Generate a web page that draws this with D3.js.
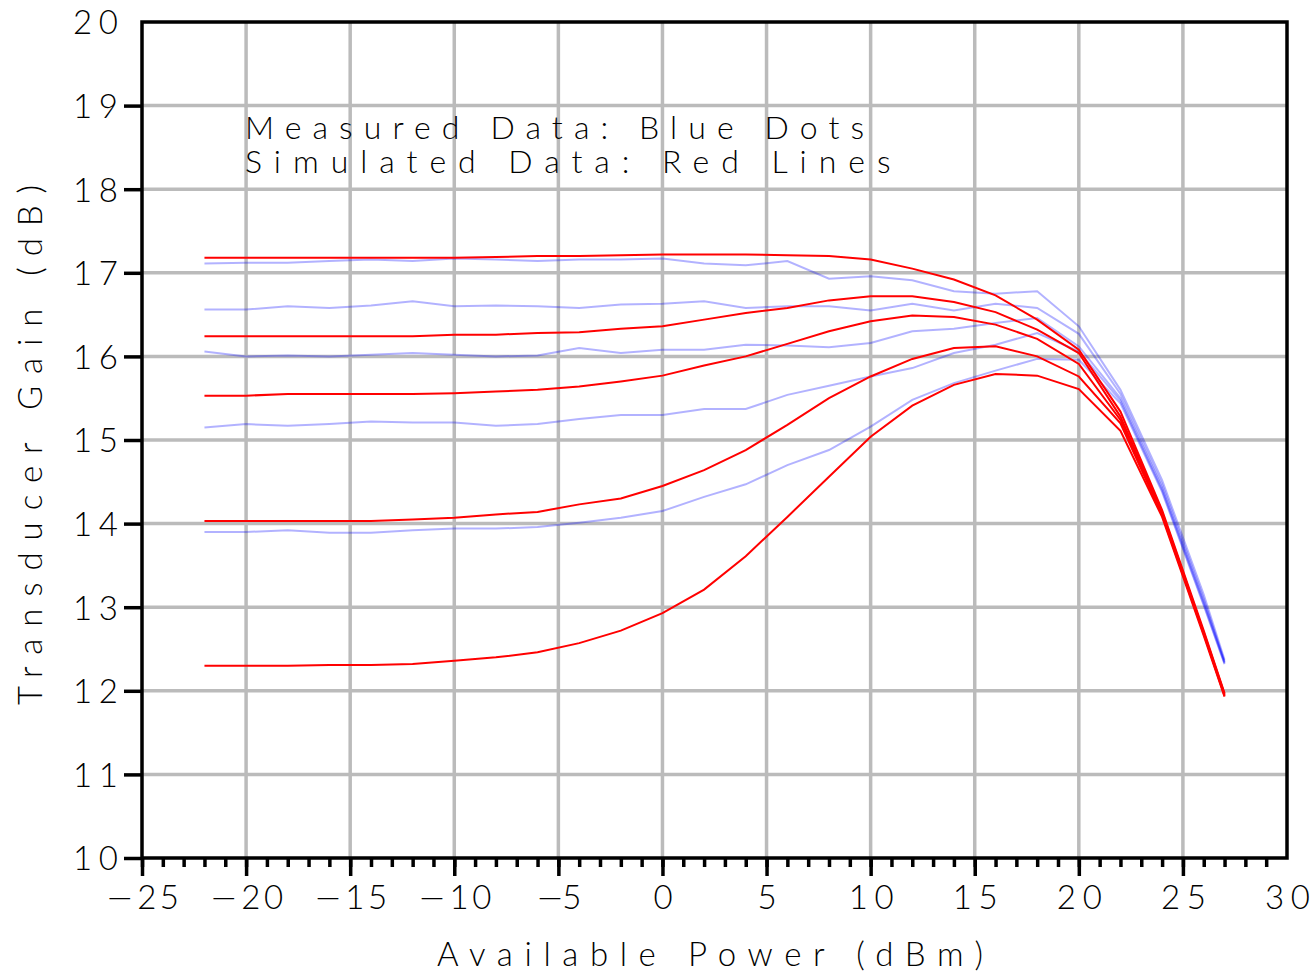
<!DOCTYPE html>
<html>
<head>
<meta charset="utf-8">
<script src="https://cdn.jsdelivr.net/npm/d3@7"></script>
<style>
    body { margin: 0; background: #fff; }
    text { font-family: Lato, "DejaVu Sans", sans-serif; font-weight: 300; fill: #000; }
</style>
</head>
<body>
<svg id="chart" width="1316" height="975"></svg>
<script>
// available power sweep (dBm)
const powerIn = [-22, -20, -18, -16, -14, -12, -10, -8, -6, -4, -2, 0, 2, 4, 6, 8, 10, 12, 14, 16, 18, 20, 22, 24, 26, 27];

// simulated gain, red lines (dB)
const simGain = [
    [17.18, 17.18, 17.18, 17.18, 17.18, 17.18, 17.18, 17.19, 17.20, 17.20, 17.21, 17.22, 17.22, 17.22, 17.21, 17.20, 17.16, 17.05, 16.92, 16.73, 16.44, 16.08, 15.34, 14.16, 12.72, 11.97],
    [16.24, 16.24, 16.24, 16.24, 16.24, 16.24, 16.26, 16.26, 16.28, 16.29, 16.33, 16.36, 16.44, 16.52, 16.58, 16.67, 16.72, 16.72, 16.65, 16.53, 16.32, 16.04, 15.28, 14.14, 12.70, 11.96],
    [15.53, 15.53, 15.55, 15.55, 15.55, 15.55, 15.56, 15.58, 15.60, 15.64, 15.70, 15.77, 15.89, 16.00, 16.15, 16.30, 16.42, 16.49, 16.47, 16.38, 16.21, 15.91, 15.24, 14.12, 12.69, 11.95],
    [14.03, 14.03, 14.03, 14.03, 14.03, 14.05, 14.07, 14.11, 14.14, 14.23, 14.30, 14.45, 14.64, 14.88, 15.18, 15.50, 15.76, 15.97, 16.10, 16.12, 16.00, 15.76, 15.20, 14.10, 12.68, 11.94],
    [12.30, 12.30, 12.30, 12.31, 12.31, 12.32, 12.36, 12.40, 12.46, 12.57, 12.72, 12.93, 13.21, 13.61, 14.08, 14.56, 15.04, 15.41, 15.66, 15.79, 15.77, 15.61, 15.11, 14.08, 12.66, 11.93]
];

// measured gain, blue (dB)
const measGain = [
    [17.11, 17.12, 17.12, 17.14, 17.16, 17.14, 17.17, 17.16, 17.14, 17.16, 17.16, 17.17, 17.11, 17.09, 17.14, 16.93, 16.96, 16.91, 16.78, 16.75, 16.78, 16.36, 15.60, 14.52, 13.15, 12.37],
    [16.56, 16.56, 16.60, 16.58, 16.61, 16.66, 16.60, 16.61, 16.60, 16.58, 16.62, 16.63, 16.66, 16.58, 16.60, 16.60, 16.55, 16.63, 16.55, 16.63, 16.58, 16.27, 15.55, 14.47, 13.10, 12.35],
    [16.06, 16.00, 16.01, 16.00, 16.02, 16.04, 16.02, 16.00, 16.01, 16.10, 16.04, 16.08, 16.08, 16.14, 16.13, 16.11, 16.16, 16.30, 16.33, 16.40, 16.46, 16.12, 15.50, 14.43, 13.07, 12.34],
    [15.15, 15.19, 15.17, 15.19, 15.22, 15.21, 15.21, 15.17, 15.19, 15.25, 15.30, 15.30, 15.37, 15.37, 15.54, 15.65, 15.76, 15.86, 16.04, 16.14, 16.28, 16.06, 15.47, 14.40, 13.04, 12.33],
    [13.90, 13.90, 13.92, 13.89, 13.89, 13.92, 13.94, 13.94, 13.96, 14.01, 14.07, 14.15, 14.32, 14.47, 14.70, 14.88, 15.16, 15.48, 15.68, 15.83, 15.97, 15.96, 15.44, 14.38, 13.02, 12.32]
];

const xTicks = [-25, -20, -15, -10, -5, 0, 5, 10, 15, 20, 25, 30];
const yTicks = [10, 11, 12, 13, 14, 15, 16, 17, 18, 19, 20];
const notes = ["Measured Data: Blue Dots", "Simulated Data: Red Lines"];

const svg = d3.select("#chart");

const plot = { left: 142, right: 1287, top: 22, bottom: 858 };

const x = d3.scaleLinear().domain([-25, 30]).range([plot.left, plot.right]);
const y = d3.scaleLinear().domain([10, 20]).range([plot.bottom, plot.top]);

// spreads glyphs out like the plotter font, roughly 28px per character
function spread(sel) {
    sel.each(function () {
        const n = this.textContent.length;
        if (n > 1) {
            d3.select(this)
                .attr("textLength", n * 28 - 11)
                .attr("lengthAdjust", "spacing");
        }
    });
}

// the plotter minus is long, Lato's is short, so borrow DejaVu's
function longMinus(sel) {
    sel.each(function () {
        const t = this.textContent;
        if (t[0] !== "−") return;
        const el = d3.select(this).text(null);
        el.append("tspan").style("font-family", "DejaVu Sans").style("font-weight", 200).text("−");
        el.append("tspan").text(t.slice(1));
    });
}

// grid
const grid = svg.append("g").attr("stroke", "#bbbbbb").attr("stroke-width", 3.5);

grid.selectAll(".vg")
    .data(xTicks.filter(d => d > -25 && d < 30))
    .join("line")
        .attr("class", "vg")
        .attr("x1", d => x(d)).attr("x2", d => x(d))
        .attr("y1", plot.top).attr("y2", plot.bottom);

grid.selectAll(".hg")
    .data(yTicks.filter(d => d > 10 && d < 20))
    .join("line")
        .attr("class", "hg")
        .attr("x1", plot.left).attr("x2", plot.right)
        .attr("y1", d => y(d)).attr("y2", d => y(d));

// curves
const line = d3.line()
    .x((d, i) => x(powerIn[i]))
    .y(d => y(d));

svg.append("g")
    .selectAll("path")
    .data(measGain)
    .join("path")
        .attr("d", line)
        .attr("fill", "none")
        .attr("stroke", "#0000ff")
        .attr("stroke-opacity", 0.3)
        .attr("stroke-width", 2);

svg.append("g")
    .selectAll("path")
    .data(simGain)
    .join("path")
        .attr("d", line)
        .attr("fill", "none")
        .attr("stroke", "#ff0000")
        .attr("stroke-width", 2);

// frame
svg.append("rect")
    .attr("x", plot.left).attr("y", plot.top)
    .attr("width", plot.right - plot.left).attr("height", plot.bottom - plot.top)
    .attr("fill", "none")
    .attr("stroke", "#000")
    .attr("stroke-width", 3.5);

// bottom axis, minor ticks every 1 dBm
const xMinor = svg.append("g")
    .attr("transform", `translate(0,${plot.bottom})`)
    .call(d3.axisBottom(x).ticks(55).tickSize(9).tickFormat(""));
xMinor.select(".domain").remove();
xMinor.selectAll(".tick")
    .filter(d => d === 30)
    .remove();
xMinor.selectAll("line").attr("stroke-width", 3.5);

const xAxis = svg.append("g")
    .attr("transform", `translate(0,${plot.bottom})`)
    .call(d3.axisBottom(x).tickValues(xTicks).tickSize(18).tickPadding(10));
xAxis.select(".domain").remove();
xAxis.selectAll("line")
    .attr("stroke-width", 3.5)
    .filter(d => d === 30)
    .remove();
xAxis.selectAll("text")
    .attr("font-size", 33)
    .attr("dy", null)
    .attr("y", 51)
    .call(spread)
    .call(longMinus);

// left axis
const yAxis = svg.append("g")
    .attr("transform", `translate(${plot.left},0)`)
    .call(d3.axisLeft(y).tickValues(yTicks).tickSize(18).tickPadding(6));
yAxis.select(".domain").remove();
yAxis.selectAll("line")
    .attr("stroke-width", 3.5)
    .filter(d => d === 20)
    .remove();
yAxis.selectAll("text")
    .attr("font-size", 33)
    .attr("dy", "0.36em")
    .attr("x", -24)
    .call(spread);

// axis titles
svg.append("text")
    .attr("x", 710)
    .attr("y", 966)
    .attr("text-anchor", "middle")
    .attr("font-size", 33)
    .attr("textLength", 546)
    .attr("lengthAdjust", "spacing")
    .text("Available Power (dBm)");

svg.append("text")
    .attr("transform", "translate(42,445) rotate(-90)")
    .attr("text-anchor", "middle")
    .attr("font-size", 33)
    .attr("textLength", 520)
    .attr("lengthAdjust", "spacing")
    .text("Transducer Gain (dB)");

// legend notes, one text block with two lines
svg.append("text")
    .attr("font-size", 32)
    .selectAll("tspan")
    .data(notes)
    .join("tspan")
        .attr("x", 245)
        .attr("y", (d, i) => 139 + i * 34)
        .attr("textLength", d => d.length * 26.3 - 12)
        .attr("lengthAdjust", "spacing")
        .text(d => d);
</script>
</body>
</html>
